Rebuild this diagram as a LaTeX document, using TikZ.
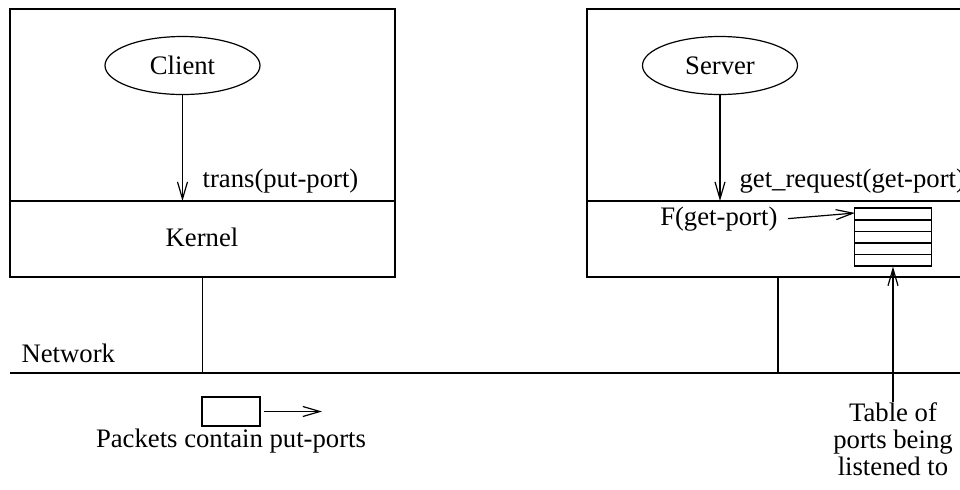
\documentclass[tikz,border=0pt]{standalone}
\usepackage{fontspec}
\setmainfont{Liberation Serif}
\usetikzlibrary{arrows.meta,shapes.geometric}
\begin{document}
\begin{tikzpicture}[x=0.5pt,y=-0.5pt, line width=0.6pt,
  txt/.style={font=\fontsize{13.35}{13.4}\selectfont, inner sep=0pt},
  proc/.style={ellipse, draw, minimum width=77.5pt, minimum height=29pt, inner sep=0pt, font=\fontsize{13.35}{16}\selectfont},
  barb/.style={-{Straight Barb[length=8.5pt,width=5pt]}},
  thickrow/.style={line width=1.1pt},
  ]
\clip (0,0) rectangle (960,489);
% machine boxes
\draw (10,9) rectangle (395,277);
\draw (10,201) -- (395,201);
\draw (587,9) rectangle (990,277);
\draw (587,201) -- (990,201);
% processes
\node[proc] (client) at (182.5,65.5) {Client};
\node[proc] (server) at (720,65.5) {Server};
\coordinate (kc) at (182.5,201);
\coordinate (ks) at (720,201);
\draw[barb] (client) -- (kc);
\draw[barb] (server) -- (ks);
\node[txt, anchor=base west] (trans) at (202,187) {trans(put-port)};
\node[txt, anchor=base west] (getreq) at (739,187) {get\_request(get-port)};
\node[txt, anchor=base] (kernel) at (202,246) {Kernel};
% table of ports
\node[draw, minimum width=38.5pt, minimum height=29pt, inner sep=0pt] (table) at (893,237) {};
\draw[thickrow] (854.5,220) -- (931.5,220);
\draw (854.5,231.5) -- (931.5,231.5);
\draw[thickrow] (854.5,243) -- (931.5,243);
\draw (854.5,254.5) -- (931.5,254.5);
\node[txt, anchor=base east] (fget) at (778,225) {F(get-port)};
\coordinate (tin) at (855,213);
\draw[barb] ([xshift=5pt]fget.east) -- (tin);
% network
\coordinate (nl) at (10,373);
\coordinate (nr) at (990,373);
\draw (nl) -- (nr);
\node[txt, anchor=base west] (net) at (21,362) {Network};
\coordinate (lb) at (202.5,277);
\coordinate (ln) at (202.5,373);
\draw (lb) -- (ln);
\coordinate (rb) at (778,277);
\coordinate (rn) at (778,373);
\draw (rb) -- (rn);
% packet
\node[draw, minimum width=29pt, minimum height=14.5pt, inner sep=0pt] (packet) at (231,411.5) {};
\coordinate (pkend) at (322,411.5);
\draw[barb] ([xshift=1.5pt]packet.east) -- (pkend);
\node[txt, anchor=base] (pktxt) at (231,447) {Packets contain put-ports};
% table label
\node[txt, align=center, anchor=north] (tbllbl) at (893,402) {Table of\\ports being\\listened to};
\draw[barb] (tbllbl.north) -- (table.south);
\end{tikzpicture}
\end{document}
